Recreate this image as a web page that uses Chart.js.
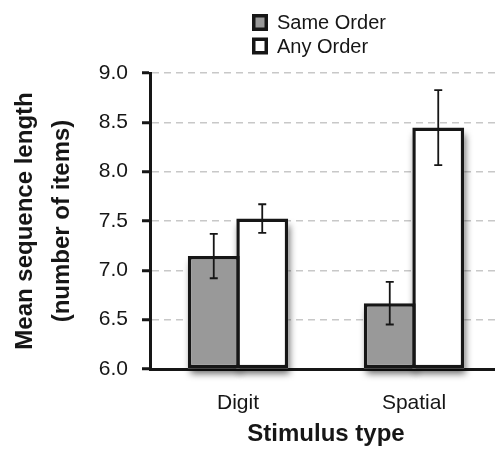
<!DOCTYPE html>
<html>
<head>
<meta charset="utf-8">
<script src="https://cdn.jsdelivr.net/npm/chart.js@4.4.0/dist/chart.umd.min.js"></script>
<style>
  html, body { margin: 0; padding: 0; background: #fff; overflow: hidden; }
  #wrap { width: 505px; height: 450px; }
</style>
</head>
<body>
<div id="wrap"><canvas id="myChart" width="505" height="450"></canvas></div>
<script>
// values
const categories = ['Digit', 'Spatial'];
const seriesNames = ['Same Order', 'Any Order'];
const sameOrder = [7.145, 6.667];
const anyOrder = [7.525, 8.447];
const sameOrderErr = [0.225, 0.216];
const anyOrderErr = [0.145, 0.38];
const yTicks = [6.0, 6.5, 7.0, 7.5, 8.0, 8.5, 9.0];
const xTitle = 'Stimulus type';
const yTitle = ['Mean sequence length', '(number of items)'];

const ink = '#161616';
const family = '"Liberation Sans", Arial, Helvetica, sans-serif';
const errors = [sameOrderErr, anyOrderErr];

// soft drop shadow under the bars
const barShadow = {
  id: 'barShadow',
  beforeDatasetsDraw(chart) {
    const ctx = chart.ctx;
    ctx.save();
    ctx.shadowColor = 'rgba(0,0,0,0.6)';
    ctx.shadowBlur = 7;
    ctx.shadowOffsetX = 2;
    ctx.shadowOffsetY = 6;
    ctx.fillStyle = '#fff';
    chart.data.datasets.forEach((ds, i) => {
      chart.getDatasetMeta(i).data.forEach(bar => {
        const p = bar.getProps(['x', 'y', 'base', 'width'], true);
        ctx.fillRect(p.x - p.width / 2, p.y, p.width, p.base - p.y);
      });
    });
    ctx.restore();
  }
};

const errorBars = {
  id: 'errorBars',
  afterDatasetsDraw(chart) {
    const ctx = chart.ctx;
    const y = chart.scales.y;
    ctx.save();
    ctx.strokeStyle = ink;
    ctx.lineWidth = 1.8;
    chart.data.datasets.forEach((ds, i) => {
      chart.getDatasetMeta(i).data.forEach((bar, j) => {
        const v = ds.data[j], e = errors[i][j];
        const top = y.getPixelForValue(v + e);
        const bot = y.getPixelForValue(v - e);
        ctx.beginPath();
        ctx.moveTo(bar.x, top); ctx.lineTo(bar.x, bot);
        ctx.moveTo(bar.x - 4, top); ctx.lineTo(bar.x + 4, top);
        ctx.moveTo(bar.x - 4, bot); ctx.lineTo(bar.x + 4, bot);
        ctx.stroke();
      });
    });
    ctx.restore();
  }
};

// legend stacked in two rows above the plot
const stackedLegend = {
  id: 'stackedLegend',
  afterDraw(chart) {
    const ctx = chart.ctx;
    const left = chart.chartArea.left + 102;
    ctx.save();
    ctx.font = '20px ' + family;
    ctx.textBaseline = 'middle';
    chart.data.datasets.forEach((ds, i) => {
      const cy = 22.5 + i * 23.5;
      ctx.fillStyle = ds.backgroundColor;
      ctx.fillRect(left, cy - 8.5, 16, 17);
      ctx.lineWidth = 3.5;
      ctx.strokeStyle = ink;
      ctx.strokeRect(left + 1.75, cy - 6.75, 12.5, 13.5);
      ctx.fillStyle = ink;
      ctx.fillText(ds.label, left + 25, cy + 1);
    });
    ctx.restore();
  }
};

const data = {
  labels: categories,
  datasets: [
    {
      label: seriesNames[0],
      data: sameOrder,
      base: yTicks[0],
      backgroundColor: '#999999',
      borderColor: ink,
      borderWidth: 3.5,
      borderSkipped: false,
      categoryPercentage: 0.551,
      barPercentage: 1.07
    },
    {
      label: seriesNames[1],
      data: anyOrder,
      base: yTicks[0],
      backgroundColor: '#ffffff',
      borderColor: ink,
      borderWidth: 3.5,
      borderSkipped: false,
      categoryPercentage: 0.551,
      barPercentage: 1.07
    }
  ]
};

const config = {
  type: 'bar',
  data: data,
  options: {
    responsive: false,
    animation: false,
    clip: false,
    layout: { padding: { top: 73, right: 3, left: 0, bottom: 0 } },
    plugins: {
      legend: { display: false },
      tooltip: { enabled: false }
    },
    scales: {
      x: {
        afterFit: s => { s.height = 81; },
        grid: { display: false, drawTicks: false, tickLength: 0 },
        border: { color: ink, width: 3 },
        ticks: { color: ink, font: { size: 21, family }, padding: 22 },
        title: {
          display: true, text: xTitle, color: ink,
          font: { size: 24, weight: 'bold', family },
          padding: { top: 0, bottom: 1 }
        }
      },
      y: {
        min: 6,
        max: 9,
        afterBuildTicks: s => { s.ticks = yTicks.map(v => ({ value: v })); },
        afterFit: s => { s.width = 150; },
        ticks: {
          color: ink, font: { size: 21, family }, padding: 14,
          callback: v => Number(v).toFixed(1)
        },
        grid: {
          color: '#c8c8c8', lineWidth: 1.5,
          tickColor: ink, tickWidth: 3, tickLength: 8, tickBorderDash: [1, 0]
        },
        border: { color: ink, width: 3, dash: [7, 5] },
        title: {
          display: true, text: yTitle, color: ink,
          font: { size: 24, weight: 'bold', family, lineHeight: 1.54 },
          padding: { top: 6.5, bottom: 0 }
        }
      }
    }
  },
  plugins: [barShadow, errorBars, stackedLegend]
};

new Chart(document.getElementById('myChart'), config);
</script>
</body>
</html>
